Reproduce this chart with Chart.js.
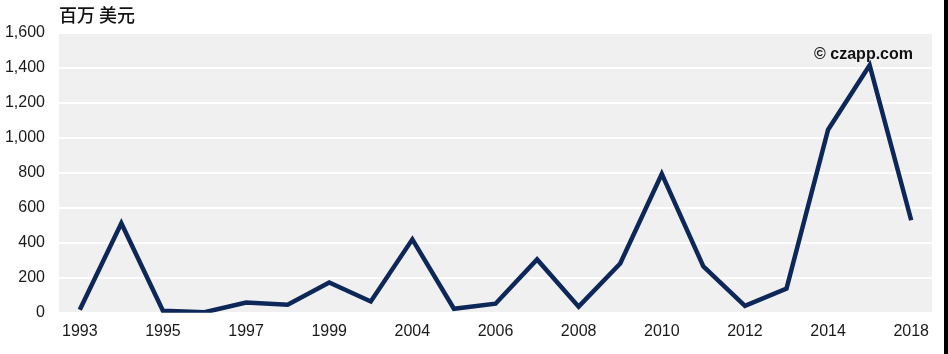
<!DOCTYPE html>
<html>
<head>
<meta charset="utf-8">
<script src="https://cdn.jsdelivr.net/npm/chart.js@4"></script>
<style>
  html, body { margin: 0; padding: 0; background: #fff; }
  #wrap { width: 944px; height: 354px; border-right: 4px solid #000; position: relative; }
</style>
</head>
<body>
<div id="wrap"><canvas id="chart"></canvas></div>
<script>
// Years shown on the axis (every other point is unlabelled in the original)
const yearLabels = ["1993", "", "1995", "", "1997", "", "1999", "", "2004", "", "2006", "", "2008", "", "2010", "", "2012", "", "2014", "", "2018"];
// 百万美元
const values = [17, 512, 12, 3, 59, 46, 173, 65, 420, 23, 52, 305, 35, 282, 794, 265, 40, 138, 1047, 1416, 529];
const yTicks = [0, 200, 400, 600, 800, 1000, 1200, 1400, 1600];

const unitLabel = "百万 美元";
const watermark = "© czapp.com";

const plotBackground = {
    id: "plotBackground",
    beforeDraw(chart) {
        const { ctx, chartArea } = chart;
        ctx.save();
        ctx.fillStyle = "#f0f0f0";
        ctx.fillRect(chartArea.left, chartArea.top, chartArea.right - chartArea.left, chartArea.bottom - chartArea.top);
        ctx.restore();
    },
    beforeDatasetsDraw(chart) {
        const { ctx, chartArea } = chart;
        ctx.save();
        ctx.fillStyle = "#111";
        ctx.textBaseline = "middle";
        ctx.font = "500 18px 'Noto Sans CJK SC', sans-serif";
        ctx.textAlign = "left";
        ctx.fillText(unitLabel, chartArea.left, 15);
        ctx.font = "bold 16px 'Liberation Sans', Arial, sans-serif";
        ctx.textAlign = "right";
        ctx.fillText(watermark, chartArea.right - 19, 55);
        ctx.restore();
    }
};

new Chart(document.getElementById("chart"), {
    type: "line",
    data: {
        labels: yearLabels,
        datasets: [{
            data: values,
            borderColor: "#0c2758",
            borderWidth: 4.5,
            borderJoinStyle: "miter",
            pointRadius: 0,
            tension: 0,
            fill: false
        }]
    },
    options: {
        responsive: true,
        maintainAspectRatio: false,
        animation: false,
        layout: { padding: { top: 33, right: 12, bottom: 12, left: 0 } },
        plugins: {
            legend: { display: false },
            tooltip: { enabled: false }
        },
        scales: {
            x: {
                offset: true,
                grid: { display: false },
                border: { display: false },
                ticks: {
                    autoSkip: false,
                    maxRotation: 0,
                    padding: 1,
                    color: "#1a1a1a",
                    font: { family: "'Liberation Sans', Arial, sans-serif", size: 16 }
                }
            },
            y: {
                min: 0,
                max: 1600,
                afterBuildTicks(scale) {
                    scale.ticks = yTicks.map(v => ({ value: v }));
                },
                afterFit(scale) {
                    scale.width = 59;
                },
                grid: {
                    color: "#ffffff",
                    lineWidth: 2,
                    drawTicks: false
                },
                border: { display: false },
                ticks: {
                    padding: 14,
                    color: "#1a1a1a",
                    font: { family: "'Liberation Sans', Arial, sans-serif", size: 16 },
                    callback: v => v.toLocaleString("en-US")
                }
            }
        }
    },
    plugins: [plotBackground]
});
</script>
</body>
</html>
